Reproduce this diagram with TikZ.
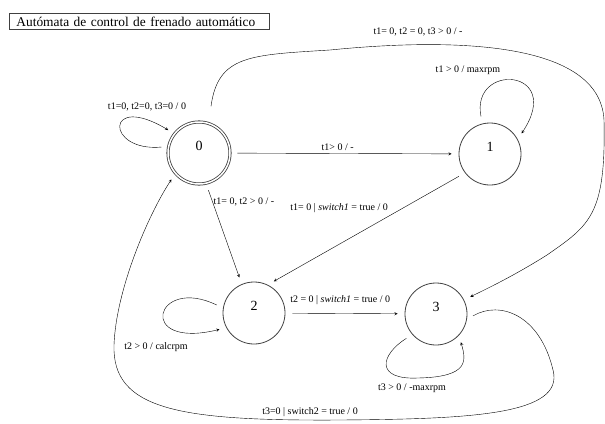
\documentclass[tikz,border=0pt]{standalone}
\usepackage{fontspec}
\setmainfont{Liberation Serif}
\usetikzlibrary{automata, positioning, arrows}
\tikzset{
    ->, % directed edges
    >=stealth, % small filled arrow heads
    shorten >=7pt, shorten <=7pt, % edges stop short of the states
    every state/.style={draw=black!75, thick, minimum size=62pt, inner sep=0pt, text depth=14pt, font=\fontsize{14}{14}\selectfont}, % digit sits above the middle
    accepting/.style={double, double distance=1.5pt},
    lbl/.style={font=\fontsize{10}{10}\selectfont, inner sep=0pt}, % transition labels
}

\begin{document}
\begin{tikzpicture}[x=1pt, y=-1pt]
\useasboundingbox (0,0) rectangle (605,423);
\node[draw=black!75, thick, anchor=north west, inner xsep=7pt, inner ysep=0pt, text width=246pt, minimum height=16pt, align=left, font=\fontsize{13.4}{14}\selectfont] (title) at (9,13) {Autómata de control de frenado automático};

\node[state, accepting] (q0) at (199,153) {0};
\node[state] (q1) at (490,154) {1};
\node[state] (q2) at (254,313) {2};
\node[state] (q3) at (436,314) {3};

\draw (q0) -- node[lbl, above=3pt, pos=0.47] (l01) {t1> 0 / -} (q1);
\draw (q0.283) -- node[lbl, anchor=west, pos=0.18, xshift=1pt] (l02) {t1= 0, t2 > 0 / -} (q2.113);
\draw (q1.217) -- node[lbl, anchor=south east, pos=0.39, yshift=4pt] (l12) {t1= 0 | \textit{switch1} = true / 0} (q2.64);
\draw (q2) -- node[lbl, above=9pt, pos=0.46] (l23) {t2 = 0 | \textit{switch1} = true / 0} (q3);

% self loops
\draw (q0.168) .. controls (105,152) and (105,92) .. (q0.142);
\node[lbl] (l00) at (147,107) {t1=0, t2=0, t3=0 / 0};
\draw (q1.104) .. controls (470,62) and (565,68) .. (q1.28);
\node[lbl] (l11) at (468,70) {t1 > 0 / maxrpm};
\draw (q2.171) .. controls (155,275) and (135,350) .. (q2.208);
\node[lbl] (l22) at (156,347) {t2 > 0 / calcrpm};
\draw (q3.221) .. controls (380,355) and (375,380) .. (418,378) .. controls (470,377) and (466,360) .. (q3.317);
\node[lbl] (l33) at (412,388) {t3 > 0 / -maxrpm};

% long arcs
\draw[shorten <=17pt] (q0.72) .. controls (218,55) and (250,55) .. (330,50) .. controls (450,38) and (600,40) .. (604,120) .. controls (606,215) and (590,225) .. (547,255) .. controls (520,272) and (495,285) .. (q3.27);
\node[lbl] (l03) at (418,32) {t1= 0, t2 = 0, t3 > 0 / -};
\draw (q3.-10) .. controls (500,300) and (540,315) .. (553,370) .. controls (565,415) and (470,419) .. (340,420) .. controls (180,421) and (112,410) .. (114,345) .. controls (116,290) and (148,215) .. (q0.221);
\node[lbl] (l30) at (310,412) {t3=0 | switch2 = true / 0};
\end{tikzpicture}
\end{document}
